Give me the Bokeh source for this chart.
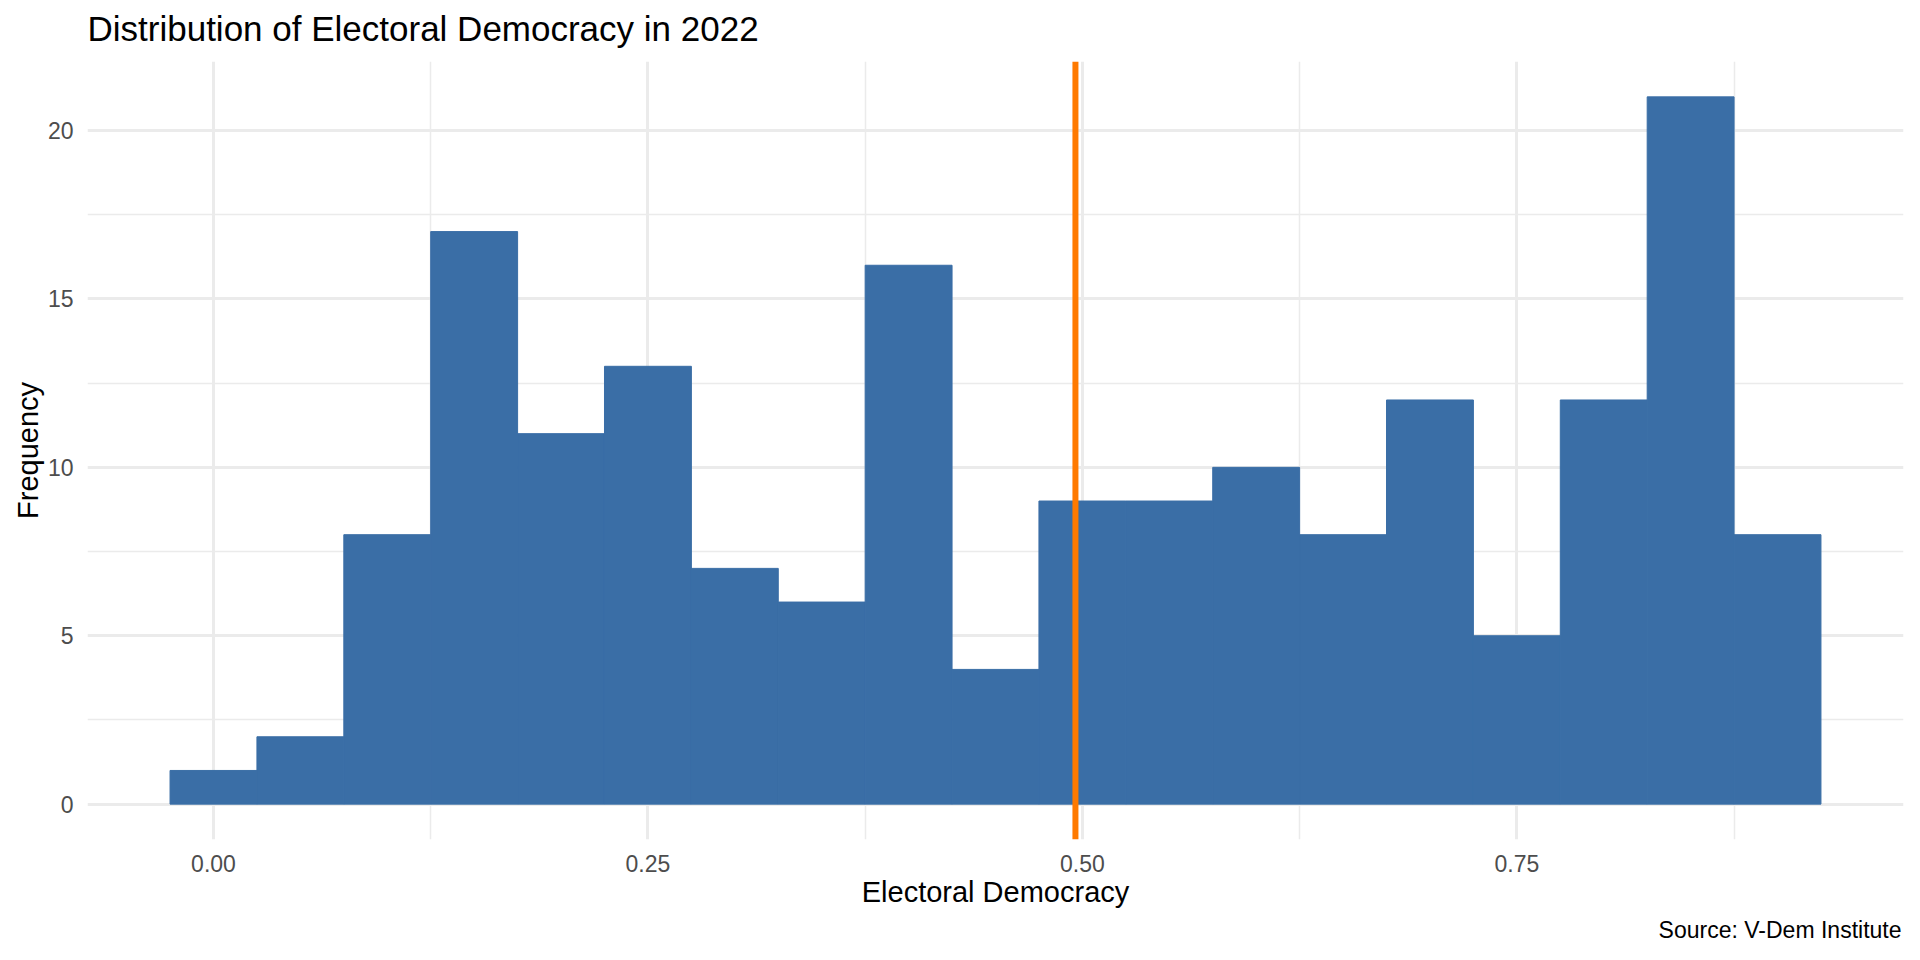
from bokeh.plotting import figure
from bokeh.models import Range1d, FixedTicker, Span, Title
from bokeh.embed import file_html
from bokeh.resources import INLINE

# ---- data ----
bin_centers = [0.00, 0.05, 0.10, 0.15, 0.20, 0.25, 0.30, 0.35, 0.40, 0.45,
               0.50, 0.55, 0.60, 0.65, 0.70, 0.75, 0.80, 0.85, 0.90]
counts = [1, 2, 8, 17, 11, 13, 7, 6, 16, 4, 9, 9, 10, 8, 12, 5, 12, 21, 8]
bin_width = 0.05
mean_value = 0.496
x_ticks = [0.0, 0.25, 0.5, 0.75]
x_tick_labels = ["0.00", "0.25", "0.50", "0.75"]
x_minor_ticks = [0.125, 0.375, 0.625, 0.875]
y_ticks = [0, 5, 10, 15, 20]
y_minor_ticks = [2.5, 7.5, 12.5, 17.5]

title_text = "Distribution of Electoral Democracy in 2022"
x_label = "Electoral Democracy"
y_label = "Frequency"
caption = "Source: V-Dem Institute"

FONT = "Liberation Sans"
BAR = "#3A6EA6"
ORANGE = "#FF7A00"
GRID = "#EBEBEB"

lefts = [c - bin_width / 2 for c in bin_centers]
rights = [c + bin_width / 2 for c in bin_centers]
x_lo, x_hi = min(lefts), max(rights)
x_pad = (x_hi - x_lo) * 0.05
y_hi = max(counts)
y_pad = y_hi * 0.05
x_start, x_end = x_lo - x_pad, x_hi + x_pad
y_start, y_end = -y_pad, y_hi + y_pad

p = figure(width=1904, height=950, output_backend="svg", toolbar_location=None,
           x_range=Range1d(x_start, x_end),
           y_range=Range1d(y_start, y_end),
           min_border_left=87, min_border_right=1,
           min_border_top=61, min_border_bottom=111)
p.title = None

p.outline_line_color = None
p.background_fill_color = "white"
p.border_fill_color = "white"

# title: a small spacer next to the frame, then the main title above it
p.add_layout(Title(text=" ", text_font_size="1px", standoff=6), "above")
p.add_layout(Title(text=title_text, align="left", offset=0, standoff=10,
                   text_font=FONT, text_font_size="35px",
                   text_font_style="normal", text_color="black"), "above")

# axes
for ax in (p.xaxis, p.yaxis):
    ax.axis_line_color = None
    ax.major_tick_line_color = None
    ax.minor_tick_line_color = None
    ax.major_tick_out = 0
    ax.major_tick_in = 0
    ax.minor_tick_out = 0
    ax.minor_tick_in = 0
    ax.major_label_text_font = FONT
    ax.major_label_text_font_size = "23px"
    ax.major_label_text_color = "#4D4D4D"
    ax.axis_label_text_font = FONT
    ax.axis_label_text_font_size = "29px"
    ax.axis_label_text_font_style = "normal"
    ax.axis_label_text_color = "black"

p.xaxis.ticker = FixedTicker(ticks=x_ticks, minor_ticks=x_minor_ticks)
p.xaxis.major_label_overrides = {t: l for t, l in zip(x_ticks, x_tick_labels)}
p.yaxis.ticker = FixedTicker(ticks=y_ticks, minor_ticks=y_minor_ticks)
p.xaxis.axis_label = x_label
p.yaxis.axis_label = y_label
p.xaxis.major_label_standoff = 15
p.xaxis.axis_label_standoff = 1
p.yaxis.major_label_standoff = 14
p.yaxis.axis_label_standoff = 1

# grid
for g in (p.xgrid, p.ygrid):
    g.grid_line_color = GRID
    g.grid_line_width = 3
    g.minor_grid_line_color = GRID
    g.minor_grid_line_width = 1.5

# bars
p.quad(left=lefts, right=rights, bottom=0, top=counts,
       fill_color=BAR, line_color=BAR, line_width=1)

# mean line
p.add_layout(Span(location=mean_value, dimension="height",
                  line_color=ORANGE, line_width=6))

# caption
p.add_layout(Title(text=caption, align="right", text_font=FONT,
                   text_font_size="23px", text_font_style="normal",
                   text_color="black", standoff=8, offset=2), "below")

open("out.html", "w").write(file_html(p, INLINE))
